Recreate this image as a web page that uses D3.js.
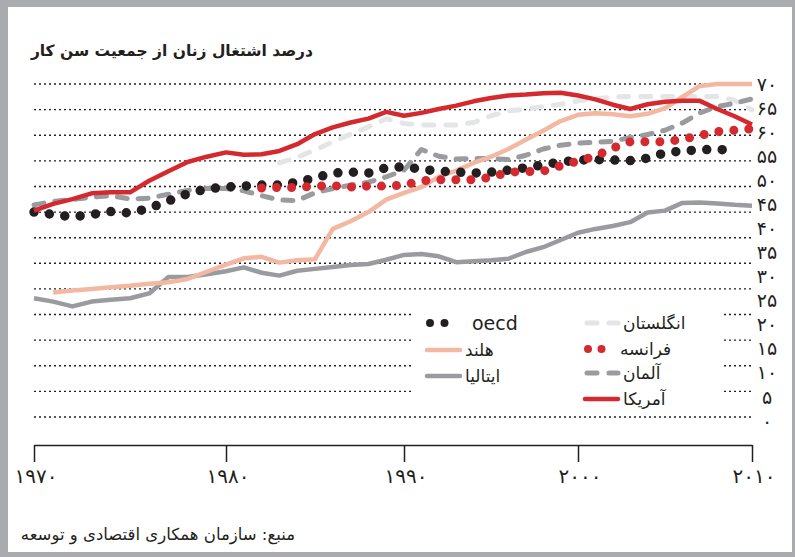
<!DOCTYPE html>
<html>
<head>
<meta charset="utf-8">
<script src="https://d3js.org/d3.v7.min.js"></script>
<style>
  body { margin: 0; background: #fff; }
  text { font-family: "DejaVu Sans", sans-serif; fill: #231f20; }
</style>
</head>
<body>
<svg id="chart"></svg>
<script>
// values (percent)
var oecdValues = [43.4, 42.9, 42.4, 42.9, 43.5, 43.2, 44.2, 45.7, 47.2, 48.2,
  48.6, 48.8, 49.0, 49.0, 49.6, 50.5, 51.5, 51.7, 51.5, 52.6,
  52.8, 52.3, 51.9, 51.7, 51.5, 51.7, 52.1, 52.6, 53.2, 53.8,
  54.2, 54.3, 54.2, 54.1, 54.6, 55.7, 56.1, 56.3, 56.5, 56.0];            // 1970-2009
var franceValues = [48.4, 48.5, 48.5, 48.8, 48.9, 48.6, 48.8, 48.8,
  49.0, 49.9, 50.1, 50.1, 50.1, 50.6, 51.7, 51.8, 51.9, 53.0,
  54.0, 55.0, 56.7, 58.0, 58.0, 58.0, 58.5, 59.3, 60.1, 60.4, 60.7];      // 1982-2010
var usValues = [43.7, 45.1, 46.1, 47.3, 47.5, 47.5, 49.9, 51.9, 53.8, 54.9,
  55.8, 55.3, 55.4, 56.1, 57.5, 59.6, 61.0, 62.0, 62.8, 64.2,
  63.4, 64.0, 64.8, 65.5, 66.4, 67.1, 67.6, 67.8, 68.1, 68.2,
  67.6, 66.8, 65.7, 64.8, 65.8, 66.3, 66.5, 66.5, 64.8, 63.3, 61.6];      // 1970-2010
var ukValues = [53.6, 54.8, 56.3, 58.0, 59.6, 61.1, 62.8,
  61.8, 61.5, 61.5, 61.5, 62.0, 63.4, 64.4, 64.8, 65.3, 65.8,
  66.5, 66.9, 67.3, 67.4, 67.4, 67.4, 67.4, 67.4, 67.4, 66.6, 64.6];      // 1983-2010
var germanyValues = [44.9, 45.6, 46.0, 46.5, 46.8, 46.1, 46.3, 47.1, 47.9, 48.3,
  48.3, 47.8, 46.8, 45.9, 45.8, 47.4, 48.3, 49.0, 49.6, 50.7,
  52.1, 56.4, 55.0, 54.4, 54.5, 54.5, 54.3, 55.2, 56.5, 57.3,
  57.7, 57.9, 58.1, 58.9, 59.5, 60.4, 61.9, 64.0, 65.3, 66.0, 66.9];      // 1970-2010
var nlValues = [26.7, 27.1, 27.4, 27.8, 28.1, 28.5, 28.8, 29.5, 31.0,
  32.5, 33.8, 34.1, 32.9, 33.4, 33.6, 39.9, 41.5, 43.4, 46.0,
  47.4, 48.6, 50.7, 52.0, 53.6, 54.9, 56.5, 58.4, 60.3, 62.3,
  63.6, 63.9, 63.7, 63.3, 63.8, 65.0, 67.3, 69.6, 70.0, 70.0, 70.0];      // 1971-2010
var italyValues = [25.5, 24.8, 23.8, 24.8, 25.2, 25.5, 26.5, 29.9, 29.9, 30.5,
  31.1, 31.9, 30.8, 30.2, 31.2, 31.6, 32.0, 32.4, 32.6, 33.5,
  34.5, 34.7, 34.2, 33.0, 33.2, 33.4, 33.7, 35.1, 36.1, 37.6,
  39.1, 39.9, 40.5, 41.3, 43.3, 43.7, 45.3, 45.4, 45.2, 44.9, 44.7];      // 1970-2010

var xTicks = [1970, 1980, 1990, 2000, 2010];
var yTicks = [0, 5, 10, 15, 20, 25, 30, 35, 40, 45, 50, 55, 60, 65, 70];

var title = "درصد اشتغال زنان از جمعیت سن کار";
var source = "منبع: سازمان همکاری اقتصادی و توسعه";

var red = "#d42a2f", pink = "#f2b8a2", light = "#e4e5e7", gray = "#9a9b9e", black = "#231f20";

// drawing order: bottom to top
var series = [
  {name: "انگلستان", start: 1983, values: ukValues, color: light, w: 5, dash: "10,12", lx: 585, ly: 323},
  {name: "آلمان", start: 1970, values: germanyValues, color: gray, w: 5, dash: "10,11", lx: 585, ly: 373},
  {name: "ایتالیا", start: 1970, values: italyValues, color: gray, w: 4.5, dash: null, lx: 427, ly: 376},
  {name: "هلند", start: 1971, values: nlValues, color: pink, w: 4.5, dash: null, lx: 427, ly: 350},
  {name: "oecd", start: 1970, values: oecdValues, color: black, w: 9.5, dash: "0,15.5", lx: 430, ly: 323},
  {name: "فرانسه", start: 1982, values: franceValues, color: red, w: 9, dash: "0,15", lx: 588, ly: 349},
  {name: "آمریکا", start: 1970, values: usValues, color: red, w: 4.5, dash: null, lx: 585, ly: 399}
];

function fa(n) {
  return String(n).replace(/\d/g, function(d) { return "۰۱۲۳۴۵۶۷۸۹"[d]; });
}

var W = 795, H = 557;
var svg = d3.select("#chart").attr("width", W).attr("height", H);

// frame
svg.append("rect").attr("width", W).attr("height", H).attr("fill", "#a9abae");
svg.append("rect").attr("x", 8).attr("y", 7).attr("width", 784).attr("height", 545).attr("fill", "#fff");

// scales (the year ticks in the original are not evenly spaced)
var x = d3.scaleLinear().domain(xTicks).range([34, 226, 404, 578, 752]);
var y = d3.scaleLinear().domain([0, 70]).range([421, 84]);
// the dotted grid has 14 rules, drawn on its own spacing
var gy = d3.scaleLinear().domain([0, 13]).range([417, 84]);

svg.append("g").selectAll("line")
  .data(d3.range(14))
  .enter().append("line")
    .attr("x1", 34).attr("x2", 752)
    .attr("y1", function(d) { return gy(d); })
    .attr("y2", function(d) { return gy(d); })
    .attr("stroke", "#231f20")
    .attr("stroke-width", 1.4)
    .attr("stroke-dasharray", "2,3");

// lines
var line = d3.line()
  .x(function(d) { return x(d.year); })
  .y(function(d) { return y(d.value); });

series.forEach(function(s) {
  var pts = s.values.map(function(v, i) { return {year: s.start + i, value: v}; });
  var p = svg.append("path")
    .datum(pts)
    .attr("d", line)
    .attr("fill", "none")
    .attr("stroke", s.color)
    .attr("stroke-width", s.w)
    .attr("stroke-linejoin", "round")
    .attr("stroke-linecap", s.dash ? "round" : "butt");
  if (s.dash) p.attr("stroke-dasharray", s.dash);
});

// legend
svg.append("rect").attr("x", 411).attr("y", 300).attr("width", 313).attr("height", 106).attr("fill", "#fff");

var legend = svg.append("g");
series.forEach(function(s) {
  var len = s.name === "oecd" ? 29 : (s.name === "فرانسه" ? 27 : 33);
  var sw = legend.append("line")
    .attr("x1", s.lx).attr("x2", s.lx + len)
    .attr("y1", s.ly).attr("y2", s.ly)
    .attr("stroke", s.color)
    .attr("stroke-width", s.w > 8 ? 8 : s.w)
    .attr("stroke-linecap", "round");
  if (s.dash) {
    sw.attr("stroke-dasharray", s.name === "oecd" ? "0,14.5" : s.name === "فرانسه" ? "0,13.5" : "10,12");
    if (s.name === "انگلستان" || s.name === "آلمان") sw.attr("x1", s.lx + 2);
  }
  legend.append("text")
    .attr("x", s.lx + len + (s.name === "oecd" ? 13 : 5))
    .attr("y", s.ly)
    .attr("dy", "0.35em")
    .attr("font-size", s.name === "oecd" ? 19 : 17)
    .text(s.name);
});

// x axis
var xAxis = svg.append("g")
  .attr("transform", "translate(0,445)")
  .call(d3.axisBottom(x).tickValues(xTicks).tickSize(17).tickSizeOuter(0).tickPadding(7).tickFormat(fa));
xAxis.select(".domain").attr("stroke", "#231f20").attr("stroke-width", 1.5);
xAxis.selectAll(".tick line").attr("stroke", "#231f20").attr("stroke-width", 1.5);
xAxis.selectAll("text")
  .attr("font-size", 20)
  .attr("letter-spacing", 3)
  .attr("dx", 1.5)
  .attr("fill", "#231f20")
  .style("font-family", "DejaVu Sans");

// y labels on the right
var yAxis = svg.append("g")
  .attr("transform", "translate(767,0)")
  .call(d3.axisRight(y).tickValues(yTicks).tickSize(0).tickPadding(0).tickFormat(fa));
yAxis.select(".domain").remove();
yAxis.selectAll("text")
  .attr("text-anchor", "middle")
  .attr("font-size", 19)
  .attr("fill", "#231f20")
  .style("font-family", "DejaVu Sans");

// title and source
svg.append("text")
  .attr("x", 313).attr("y", 56)
  .attr("text-anchor", "end")
  .attr("font-size", 15.5)
  .attr("font-weight", "bold")
  .text(title);

svg.append("text")
  .attr("x", 295).attr("y", 540)
  .attr("text-anchor", "end")
  .attr("font-size", 16.5)
  .text(source);
</script>
</body>
</html>
